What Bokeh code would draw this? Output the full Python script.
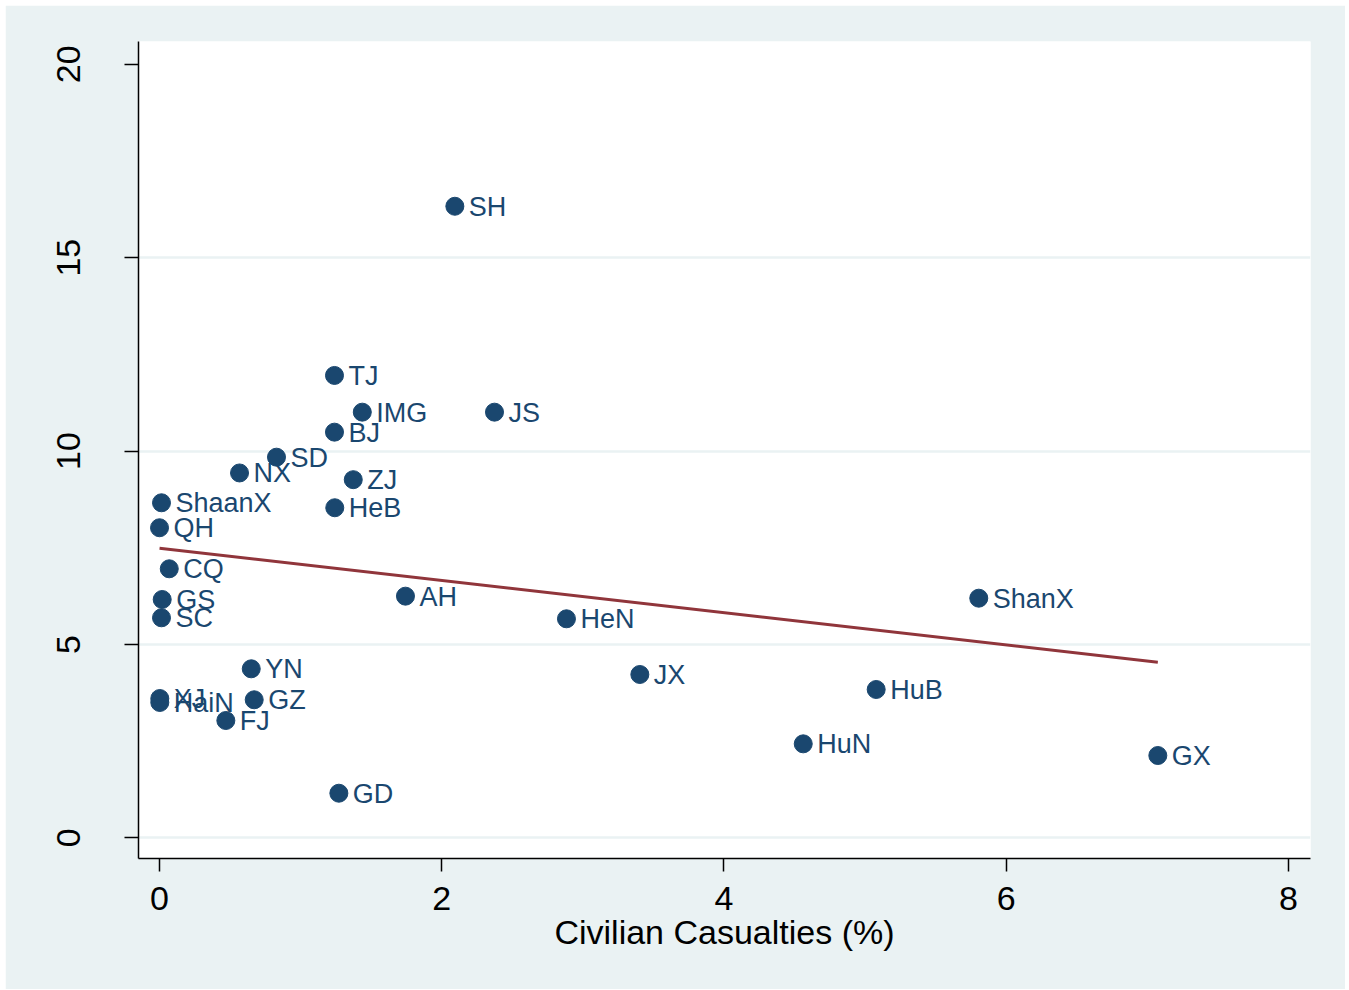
from bokeh.plotting import figure
from bokeh.models import ColumnDataSource, Range1d, FixedTicker
from bokeh.core.properties import value
from bokeh.embed import file_html
from bokeh.resources import INLINE

provinces = ["SH", "TJ", "IMG", "JS", "BJ", "SD", "NX", "ZJ", "ShaanX", "HeB",
             "QH", "CQ", "GS", "AH", "ShanX", "HeN", "SC", "YN", "JX", "HuB",
             "XJ", "HaiN", "GZ", "FJ", "HuN", "GX", "GD"]
casualties = [2.093, 1.240, 1.437, 2.374, 1.240, 0.829, 0.567, 1.373, 0.014, 1.242,
              0.0, 0.069, 0.019, 1.743, 5.806, 2.884, 0.014, 0.650, 3.404, 5.079,
              0.002, 0.002, 0.671, 0.470, 4.562, 7.075, 1.271]
yvals = [16.33, 11.955, 11.006, 11.006, 10.489, 9.842, 9.434, 9.260, 8.663, 8.534,
         8.017, 6.956, 6.162, 6.248, 6.196, 5.663, 5.689, 4.370, 4.223, 3.835,
         3.602, 3.499, 3.569, 3.033, 2.430, 2.128, 1.153]

fit_x = [0.0, 7.075]
fit_y = [7.49, 4.541]

x_ticks = [0, 2, 4, 6, 8]
y_ticks = [0, 5, 10, 15, 20]
y_grid = [0, 5, 10, 15]

NAVY = "#1A476F"
MAROON = "#90353B"
BG = "#EAF2F3"
FONT = "Liberation Sans"

src = ColumnDataSource(dict(x=casualties, y=yvals, name=provinces))

p = figure(width=1340, height=984, output_backend="svg", toolbar_location=None,
           x_range=Range1d(-0.149, 8.157), y_range=Range1d(-0.535, 20.59),
           min_border_left=133, min_border_right=35, min_border_top=36,
           min_border_bottom=131)
p.margin = (5, 0, 0, 5)

p.background_fill_color = "white"
p.border_fill_color = BG
p.outline_line_color = None

p.line(fit_x, fit_y, line_color=MAROON, line_width=3)
p.scatter("x", "y", source=src, size=18, fill_color=NAVY, line_color=NAVY)
p.text("x", "y", text="name", source=src, x_offset=14, y_offset=0.5,
       text_font=value(FONT), text_font_size="27px", text_color=NAVY,
       text_align="left", text_baseline="middle")

for ax in (p.xaxis[0], p.yaxis[0]):
    ax.axis_line_color = "black"
    ax.axis_line_width = 1.5
    ax.major_tick_line_color = "black"
    ax.major_tick_line_width = 1.5
    ax.major_tick_in = 0
    ax.major_tick_out = 13
    ax.minor_tick_line_color = None
    ax.major_label_text_font = FONT
    ax.major_label_text_font_size = "34px"
    ax.major_label_text_color = "black"
    ax.axis_label_text_font = FONT
    ax.axis_label_text_font_size = "34px"
    ax.axis_label_text_font_style = "normal"
    ax.axis_label_text_color = "black"

p.xaxis.ticker = FixedTicker(ticks=x_ticks)
p.yaxis.ticker = FixedTicker(ticks=y_ticks)
p.xaxis.axis_label = "Civilian Casualties (%)"
p.xaxis.major_label_standoff = 15
p.xaxis.axis_label_standoff = 0
p.yaxis.major_label_orientation = "vertical"
p.yaxis.major_label_standoff = 44
p.yaxis.major_tick_out = 14

p.xgrid.grid_line_color = None
p.ygrid.ticker = FixedTicker(ticks=y_grid)
p.ygrid.grid_line_color = BG
p.ygrid.grid_line_width = 2.5

open("out.html", "w").write(file_html(p, INLINE))
